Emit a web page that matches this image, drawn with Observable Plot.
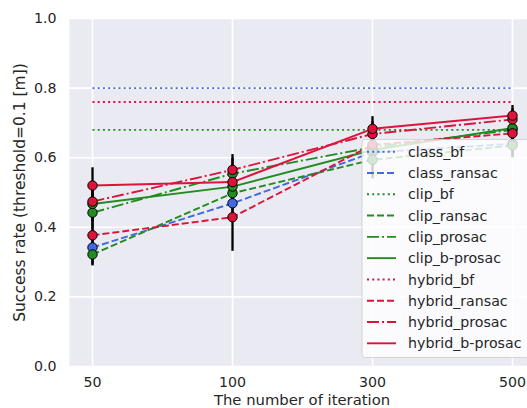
<!DOCTYPE html>
<html><head><meta charset="utf-8">
<script src="https://cdn.jsdelivr.net/npm/d3@7"></script>
<script src="https://cdn.jsdelivr.net/npm/@observablehq/plot@0.6"></script>
<style>
html,body{margin:0;padding:0;background:#fff;overflow:hidden;}
#chart svg{display:block;}
</style></head><body><div id="chart"></div>
<script>
// ---- data ----
const iterations = ["50", "100", "300", "500"];
const seriesNames = ["class_bf","class_ransac","clip_bf","clip_ransac","clip_prosac","clip_b-prosac","hybrid_bf","hybrid_ransac","hybrid_prosac","hybrid_b-prosac"];
const yTicks = [0.0, 0.2, 0.4, 0.6, 0.8, 1.0];

const class_bf        = [0.800, 0.800, 0.800, 0.800];
const class_ransac    = [0.342, 0.469, 0.615, 0.640];
const clip_bf         = [0.680, 0.680, 0.680, 0.680];
const clip_ransac     = [0.322, 0.498, 0.594, 0.635];
const clip_prosac     = [0.442, 0.554, 0.630, 0.680];
const clip_b_prosac   = [0.467, 0.517, 0.622, 0.685];
const hybrid_bf       = [0.760, 0.760, 0.760, 0.760];
const hybrid_ransac   = [0.377, 0.429, 0.637, 0.670];
const hybrid_prosac   = [0.474, 0.565, 0.668, 0.710];
const hybrid_b_prosac = [0.520, 0.530, 0.683, 0.721];

// standard deviations (bf variants have none)
const class_ransac_err    = [0.050, 0.044, 0.035, 0.040];
const clip_ransac_err     = [0.033, 0.044, 0.055, 0.035];
const clip_prosac_err     = [0.050, 0.044, 0.035, 0.030];
const clip_b_prosac_err   = [0.050, 0.044, 0.035, 0.030];
const hybrid_ransac_err   = [0.050, 0.098, 0.035, 0.030];
const hybrid_prosac_err   = [0.050, 0.044, 0.035, 0.030];
const hybrid_b_prosac_err = [0.051, 0.044, 0.035, 0.029];

const seriesValues = [class_bf, class_ransac, clip_bf, clip_ransac, clip_prosac, clip_b_prosac, hybrid_bf, hybrid_ransac, hybrid_prosac, hybrid_b_prosac];
const seriesErrors = [null, class_ransac_err, null, clip_ransac_err, clip_prosac_err, clip_b_prosac_err, null, hybrid_ransac_err, hybrid_prosac_err, hybrid_b_prosac_err];

// ---- styles ----
const familyColor = {class: "#4169E1", clip: "#228B22", hybrid: "#DC143C"};
const methodDash = {bf: "2 3.2", ransac: "7 3", prosac: "12 3 2 3", "b-prosac": null};
const styleOf = name => {
  const i = name.indexOf("_");
  return {color: familyColor[name.slice(0, i)], dash: methodDash[name.slice(i + 1)]};
};

// ---- tidy rows ----
const rows = [];
seriesNames.forEach((name, s) => {
  seriesValues[s].forEach((v, k) => {
    const e = seriesErrors[s] ? seriesErrors[s][k] : null;
    rows.push({series: name, iter: iterations[k], value: v,
      lo: e == null ? null : v - e, hi: e == null ? null : v + e,
      color: styleOf(name).color, hasMarker: e != null});
  });
});

const lineMarks = seriesNames.map(name => {
  const st = styleOf(name);
  return Plot.line(rows.filter(r => r.series === name), {
    x: "iter", y: "value", stroke: st.color, strokeWidth: 1.9,
    strokeDasharray: st.dash == null ? undefined : st.dash, strokeLinecap: "butt"
  });
});

const textColor = "#262626";

const chart = Plot.plot({
  width: 527, height: 408,
  marginLeft: 69, marginRight: 0, marginTop: 18, marginBottom: 42,
  style: {fontFamily: "DejaVu Sans", fontSize: "14px", color: textColor, background: "white"},
  x: {type: "point", domain: iterations, range: [69, 534], padding: 0.15},
  y: {domain: [0, 1]},
  marks: [
    Plot.frame({fill: "#EAEAF2", stroke: null}),
    Plot.gridX(iterations, {stroke: "white", strokeOpacity: 1, strokeWidth: 1.6}),
    Plot.gridY(yTicks, {stroke: "white", strokeOpacity: 1, strokeWidth: 1.6}),
    Plot.axisY(yTicks, {tickSize: 0, tickPadding: 13, tickFormat: d3.format(".1f"), fontSize: 14.2, label: null, fill: textColor}),
    Plot.axisX(iterations, {tickSize: 0, tickPadding: 10.5, fontSize: 14.2, label: null, fill: textColor}),
    Plot.ruleX(rows.filter(r => r.hasMarker), {x: "iter", y1: "lo", y2: "hi", stroke: "black", strokeWidth: 2.3}),
    ...lineMarks,
    Plot.dot(rows.filter(r => r.hasMarker), {x: "iter", y: "value", r: 4.7, fill: "color", stroke: "black", strokeWidth: 1}),
    Plot.text(["The number of iteration"], {text: d => d, frameAnchor: "bottom", textAnchor: "middle", lineAnchor: "top", dy: 27.8, dx: 3.5, fontSize: 14.8, fill: textColor}),
    Plot.text(["Success rate (threshold=0.1 [m])"], {text: d => d, frameAnchor: "left", textAnchor: "middle", lineAnchor: "middle", rotate: -90, dx: -49, fontSize: 15.5, fill: textColor})
  ],
  color: {type: "identity"}
});

document.getElementById("chart").appendChild(chart);

// ---- legend (drawn on top, semi-transparent white box) ----
const svg = d3.select(chart);
const lg = svg.append("g").attr("font-family", "DejaVu Sans").attr("font-size", 14.2).attr("text-anchor", "start");
lg.append("rect").attr("x", 362).attr("y", 139.5).attr("width", 168).attr("height", 218)
  .attr("rx", 3.5).attr("fill", "white").attr("fill-opacity", 0.8)
  .attr("stroke", "#cccccc").attr("stroke-opacity", 0.8).attr("stroke-width", 1);
seriesNames.forEach((name, i) => {
  const st = styleOf(name);
  const y = 151.7 + i * 21.29;
  lg.append("line").attr("x1", 367).attr("x2", 396).attr("y1", y).attr("y2", y)
    .attr("stroke", st.color).attr("stroke-width", 1.9)
    .attr("stroke-dasharray", st.dash == null ? null : st.dash);
  lg.append("text").attr("x", 408).attr("y", y).attr("dy", "0.36em")
    .attr("text-anchor", "start").attr("fill", textColor).text(name);
});
</script>
</body></html>
